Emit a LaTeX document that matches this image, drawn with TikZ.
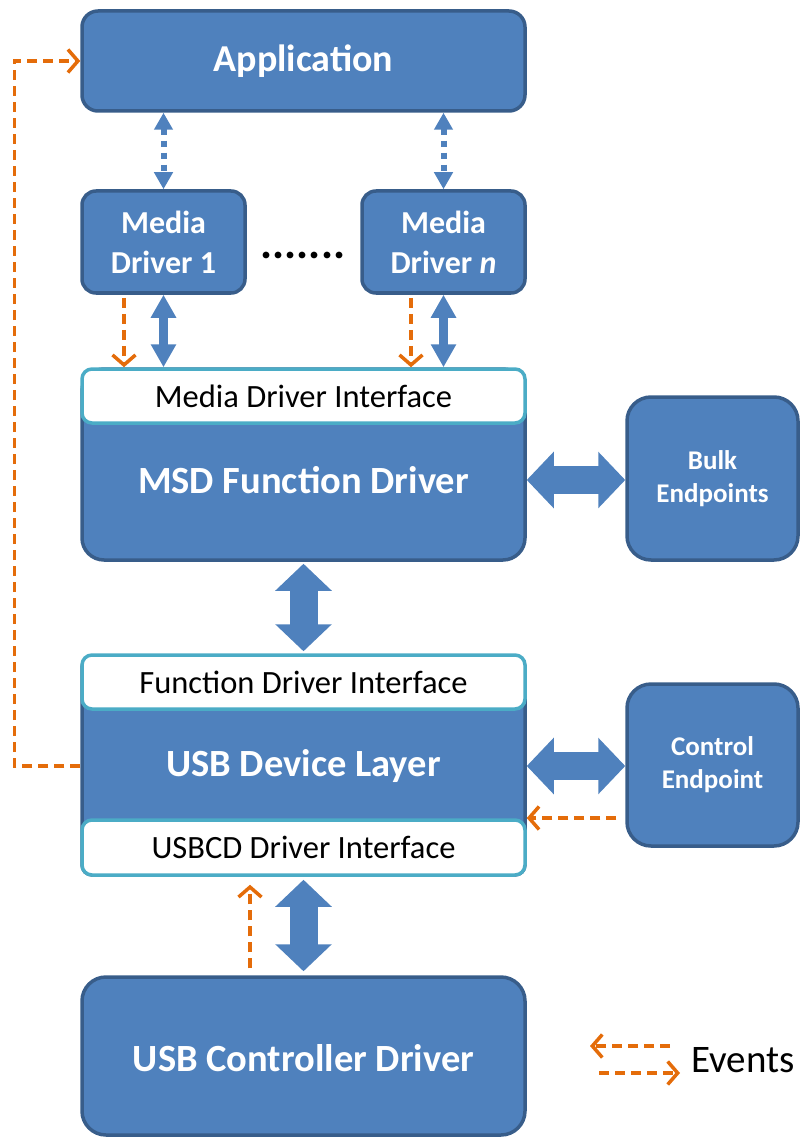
\documentclass[tikz,border=0pt]{standalone}
\usepackage{fontspec}
\setmainfont{Carlito}
\usetikzlibrary{arrows.meta,calc}
\definecolor{bfill}{RGB}{79,129,189}
\definecolor{bdark}{RGB}{56,93,138}
\definecolor{tealb}{RGB}{75,172,198}
\definecolor{orng}{RGB}{228,108,10}
\begin{document}
\begin{tikzpicture}[x=1pt,y=-1pt,
  blk/.style={draw=bdark, fill=bfill, line width=3.5pt, rounded corners=16pt, text=white, align=center, inner sep=0pt},
  iface/.style={draw=tealb, fill=white, line width=3.5pt, rounded corners=10pt, inner sep=0pt, font=\fontsize{32.5}{38}\selectfont},
  bigtxt/.style={text=white, font=\fontsize{38.5}{46}\bfseries\selectfont, inner sep=0pt},
  medtxt/.style={font=\fontsize{32}{40}\bfseries\selectfont},
  eptxt/.style={font=\fontsize{27}{33}\bfseries\selectfont},
  bigarr/.style={draw=bfill, line width=28pt, {Triangle[length=27pt,width=55pt]}-{Triangle[length=27pt,width=55pt]}},
  smallarr/.style={draw=bfill, line width=9pt, {Triangle[length=23pt,width=24pt]}-{Triangle[length=23pt,width=24pt]}},
  dotarr/.style={draw=bfill, line width=6pt, dash pattern=on 6pt off 6pt, {Triangle[length=17pt,width=18pt]}-{Triangle[length=17pt,width=18pt]}},
  evt/.style={draw=orng, line width=3.5pt, dash pattern=on 10pt off 6pt, -{Straight Barb[length=10pt,width=23pt]}}
]
\useasboundingbox (0,0) rectangle (801,1139);

% boxes
\node[blk, minimum width=443pt, minimum height=100pt, font=\fontsize{38}{46}\bfseries\selectfont] (app) at (303.5,61) {Application};
\node[blk, rounded corners=14pt, minimum width=163pt, minimum height=102pt, medtxt] (md1) at (163.5,242) {Media\\Driver 1};
\node[blk, rounded corners=14pt, minimum width=163pt, minimum height=102pt, medtxt] (mdn) at (443.5,242) {Media\\Driver \textit{n}};
\node[font=\fontsize{45}{50}\bfseries\selectfont, anchor=base, inner sep=0pt] (dots) at (303,259) {.......};

\node[blk, rounded corners=22pt, minimum width=443pt, minimum height=191pt] (msd) at (303.5,464.5) {};
\node[iface, minimum width=443pt, minimum height=54pt] (mdi) at (303.5,396) {Media Driver Interface};
\node[bigtxt] (msdt) at (303.5,480) {MSD Function Driver};

\node[blk, rounded corners=24pt, minimum width=171pt, minimum height=163pt, eptxt] (bulk) at (712.5,478.5) {Bulk\\Endpoints};

\node[blk, rounded corners=10pt, minimum width=443pt, minimum height=218pt] (udl) at (303.5,766) {};
\node[iface, minimum width=443pt, minimum height=54pt] (fdi) at (303.5,682) {Function Driver Interface};
\node[iface, minimum width=443pt, minimum height=55pt] (cdi) at (303.5,847.5) {USBCD Driver Interface};
\node[bigtxt] (udlt) at (303.5,766) {USB Device Layer};

\node[blk, rounded corners=24pt, minimum width=171pt, minimum height=162pt, eptxt] (ctrl) at (712.5,765) {Control\\Endpoint};

\node[blk, rounded corners=24pt, minimum width=443pt, minimum height=158pt] (ucd) at (303.5,1056) {};
\node[bigtxt] (ucdt) at (303.5,1058) {USB Controller Driver};

% blue connectors
\draw[dotarr] (md1.north |- app.south) -- (md1.north);
\draw[dotarr] (mdn.north |- app.south) -- (mdn.north);
\draw[smallarr] (md1.south) -- (md1.south |- mdi.north);
\draw[smallarr] (mdn.south) -- (mdn.south |- mdi.north);
\draw[bigarr] (msd.east |- msdt) -- (bulk.west |- msdt);
\draw[bigarr, shorten <=2pt, shorten >=2pt] (msd.south) -- (fdi.north);
\draw[bigarr] (udl.east |- udlt) -- (ctrl.west |- udlt);
\draw[bigarr, shorten <=3pt, shorten >=4pt] (cdi.south) -- (ucd.north);

% event connectors
\coordinate (e1) at ($(md1.south)+(-39.5,0)$);
\coordinate (en) at ($(mdn.south)+(-32.5,0)$);
\draw[evt, shorten <=3pt] (e1) -- (e1 |- mdi.north);
\draw[evt, shorten <=3pt] (en) -- (en |- mdi.north);
\coordinate (ec) at (0,818);
\draw[evt, shorten <=9pt] (ctrl.west |- ec) -- (udl.east |- ec);
\coordinate (eu) at (250,0);
\draw[evt, shorten <=7pt, shorten >=8pt] (eu |- ucd.north) -- (eu |- cdi.south);
\draw[evt] (udl.west) -- ++(-66,0) |- (app.west);

% legend
\coordinate (l1) at (670,1046);
\coordinate (l2) at (590,1046);
\coordinate (l3) at (599,1073);
\coordinate (l4) at (680,1073);
\draw[evt] (l1) -- (l2);
\draw[evt] (l3) -- (l4);
\node[font=\fontsize{39}{46}\selectfont, anchor=west, inner sep=0pt] (ev) at (691,1060) {Events};
\end{tikzpicture}
\end{document}
